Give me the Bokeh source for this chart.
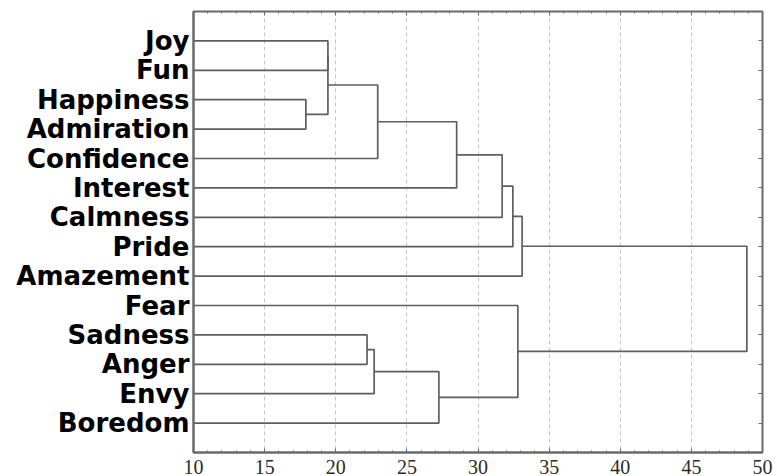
from bokeh.plotting import figure
from bokeh.models import (Range1d, FixedTicker, SingleIntervalTicker, LinearAxis,
                          CustomLabelingPolicy)
from bokeh.embed import file_html
from bokeh.resources import INLINE

# ---- data ----
leaves = ["Joy", "Fun", "Happiness", "Admiration", "Confidence", "Interest",
          "Calmness", "Pride", "Amazement", "Fear", "Sadness", "Anger",
          "Envy", "Boredom"]

merge_id = ["A", "B", "C", "D", "E", "F", "G", "H", "I", "J", "K", "L", "M"]
merge_a = ["Happiness", "Joy", "B", "C", "D", "E", "F", "G",
           "Sadness", "I", "J", "Fear", "H"]
merge_b = ["Admiration", "Fun", "A", "Confidence", "Interest", "Calmness",
           "Pride", "Amazement", "Anger", "Envy", "Boredom", "K", "L"]
merge_height = [17.9, 19.45, 19.45, 22.95, 28.5, 31.7, 32.45, 33.1,
                22.2, 22.7, 27.25, 32.8, 48.9]

x_min, x_max = 10, 50
x_ticks = [10, 15, 20, 25, 30, 35, 40, 45, 50]

# ---- build dendrogram paths ----
pos = {}
for i, name in enumerate(leaves):
    pos[name] = (x_min, i + 1)

xs, ys = [], []
for mid, a, b, h in zip(merge_id, merge_a, merge_b, merge_height):
    xa, ya = pos[a]
    xb, yb = pos[b]
    xs.append([xa, h, h, xb])
    ys.append([ya, ya, yb, yb])
    pos[mid] = (h, (ya + yb) / 2.0)

# ---- figure ----
frame_col = "#6a6a6a"
line_col = "#5e5e5e"
no_labels = CustomLabelingPolicy(code="return new Set()")

p = figure(width=777, height=476,
           x_range=Range1d(x_min, x_max),
           y_range=Range1d(len(leaves) + 1, 0),
           output_backend="svg", toolbar_location=None,
           min_border_left=193, min_border_right=11,
           min_border_top=10, min_border_bottom=0)

p.background_fill_color = "white"
p.border_fill_color = "white"
p.outline_line_color = frame_col
p.outline_line_width = 2

p.multi_line(xs=xs, ys=ys, line_color=line_col, line_width=1.7)

# grid
p.ygrid.visible = False
p.xgrid.ticker = FixedTicker(ticks=x_ticks)
p.xgrid.grid_line_color = "#c4c4c4"
p.xgrid.grid_line_dash = "4 3"
p.xgrid.grid_line_width = 1

# bottom axis
xa = p.xaxis[0]
xa.ticker = SingleIntervalTicker(interval=5, num_minor_ticks=5)
xa.axis_line_color = frame_col
xa.axis_line_width = 2
xa.major_tick_in = 4
xa.major_tick_out = 0
xa.minor_tick_in = 2
xa.minor_tick_out = 0
xa.major_tick_line_color = frame_col
xa.minor_tick_line_color = frame_col
xa.major_label_standoff = 7
xa.major_label_text_font = "Liberation Serif"
xa.major_label_text_font_size = "20px"
xa.major_label_text_color = "#2e2a25"

# left axis (leaf labels)
ya = p.yaxis[0]
ya.ticker = FixedTicker(ticks=list(range(1, len(leaves) + 1)))
ya.major_label_overrides = {i + 1: n for i, n in enumerate(leaves)}
ya.axis_line_color = frame_col
ya.axis_line_width = 2
ya.major_tick_in = 0
ya.major_tick_out = 0
ya.minor_tick_line_color = None
ya.major_label_standoff = 4
ya.major_label_text_font = "DejaVu Sans"
ya.major_label_text_font_style = "bold"
ya.major_label_text_font_size = "26px"
ya.major_label_text_color = "black"

# top axis (ticks only)
top = LinearAxis(ticker=SingleIntervalTicker(interval=5, num_minor_ticks=5),
                 major_label_policy=no_labels, major_label_standoff=0,
                 major_tick_in=4, major_tick_out=0,
                 minor_tick_in=2, minor_tick_out=0,
                 major_tick_line_color=frame_col, minor_tick_line_color=frame_col,
                 axis_line_color=None)
p.add_layout(top, "above")

# right axis (ticks only)
right = LinearAxis(ticker=FixedTicker(ticks=list(range(1, len(leaves) + 1))),
                   major_label_policy=no_labels, major_label_standoff=0,
                   major_tick_in=4, major_tick_out=0,
                   minor_tick_line_color=None,
                   major_tick_line_color=frame_col,
                   axis_line_color=None)
p.add_layout(right, "right")

open("out.html", "w").write(file_html(p, INLINE))
